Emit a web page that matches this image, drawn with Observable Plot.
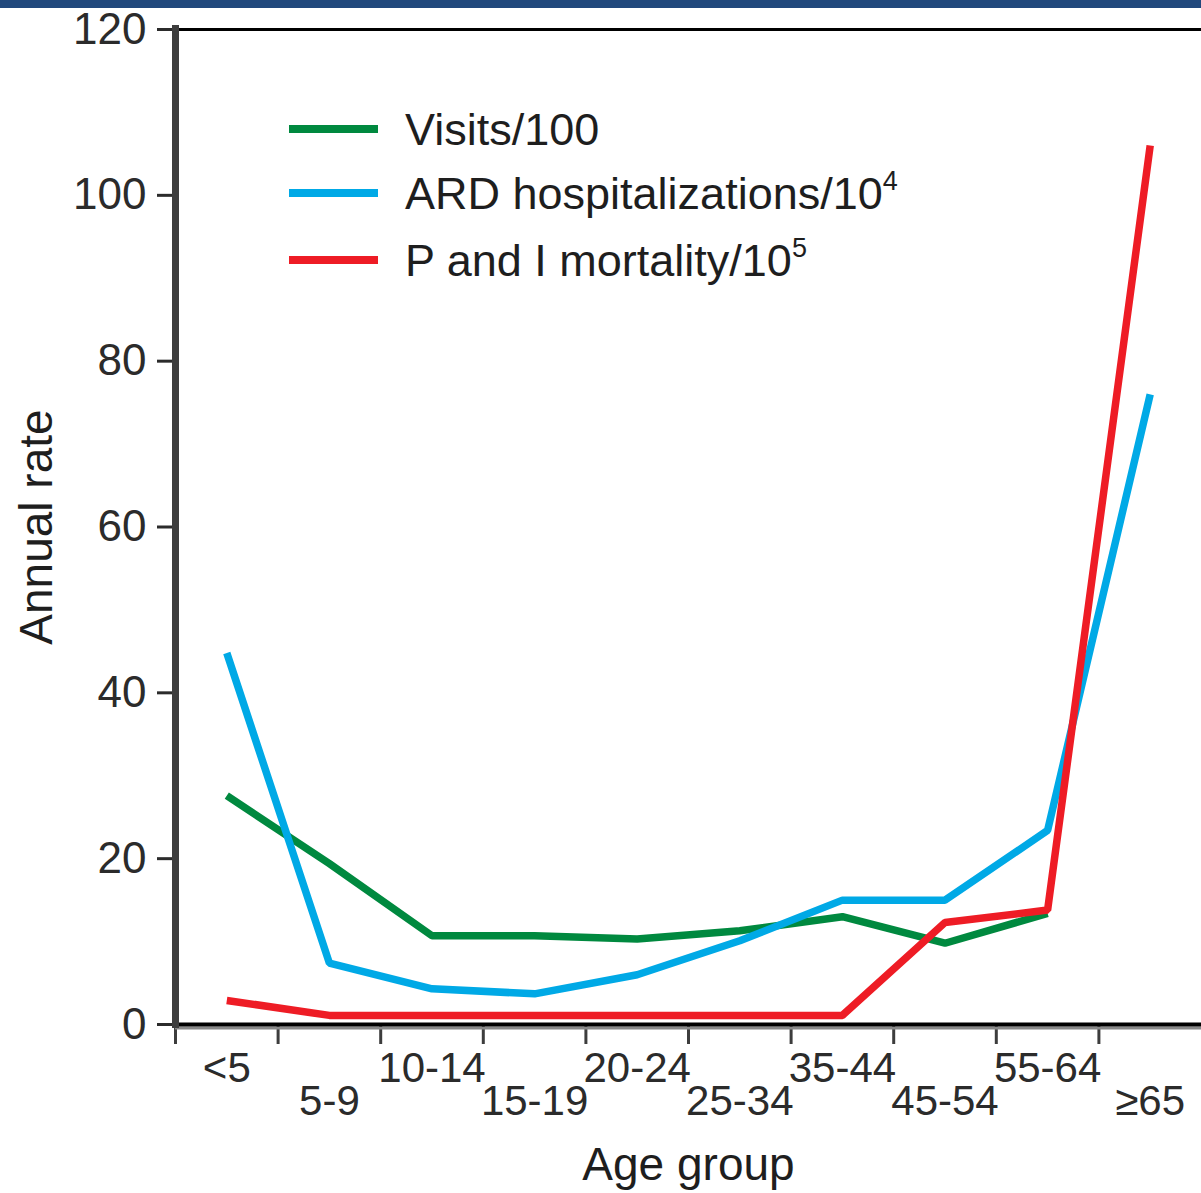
<!DOCTYPE html>
<html><head><meta charset="utf-8">
<script src="https://cdn.jsdelivr.net/npm/d3@7"></script>
<script src="https://cdn.jsdelivr.net/npm/@observablehq/plot@0.6"></script>
<style>
body{margin:0;background:#fff;}
#wrap{position:relative;width:1201px;height:1193px;overflow:hidden;background:#fff;}
#band{position:absolute;left:0;top:0;width:1201px;height:8px;background:#21487c;}
#chart svg{display:block;}
</style></head><body><div id="wrap"><div id="chart"></div><div id="band"></div></div>
<script>
const ageGroups = ["<5","5-9","10-14","15-19","20-24","25-34","35-44","45-54","55-64","≥65"];
const visits  = [27.6, 19.4, 10.7, 10.7, 10.3, 11.3, 13.0, 9.8, 13.4, null];
const ardHosp = [44.8, 7.4, 4.3, 3.7, 6.0, 10.1, 15.0, 15.0, 23.4, 76.0];
const piMort  = [2.9, 1.1, 1.1, 1.1, 1.1, 1.1, 1.1, 12.3, 13.8, 106.0];
const seriesNames = ["Visits/100", "ARD hospitalizations/10", "P and I mortality/10"];
const seriesSup = ["", "4", "5"];
const seriesColors = ["#00893f", "#00a9e6", "#ee1c25"];
const yTicks = [0, 20, 40, 60, 80, 100, 120];
const xTitle = "Age group";
const yTitle = "Annual rate";

const seriesValues = [visits, ardHosp, piMort];
const rows = [];
seriesValues.forEach((vals, s) => vals.forEach((v, i) => {
  if (v != null) rows.push({age: ageGroups[i], value: v, series: seriesNames[s]});
}));

const W = 1201, H = 1193, ML = 175, MT = 29, MR = 0, MB = H - 1024;
const bw = (W - ML - MR) / ageGroups.length;
const font = "'Liberation Sans', Arial, Helvetica, sans-serif";

const plot = Plot.plot({
  width: W, height: H,
  marginLeft: ML, marginRight: MR, marginTop: MT, marginBottom: MB,
  style: {fontFamily: font, background: "#fff", color: "#2b2b2b"},
  x: {type: "band", domain: ageGroups, padding: 0, round: false, axis: null},
  y: {domain: [0, 120], axis: null},
  color: {domain: seriesNames, range: seriesColors},
  marks: [
    Plot.ruleY([120], {stroke: "#000", strokeWidth: 3}),
    Plot.axisY({ticks: yTicks, tickSize: 18, tickPadding: 11, fontSize: 44, label: null, strokeWidth: 3, color: "#2b2b2b"}),
    Plot.axisX({ticks: ageGroups, tickSize: 20, tickFormat: () => "", label: null, dx: -bw / 2, strokeWidth: 3, color: "#3d3d3d"}),
    Plot.axisX({ticks: ageGroups.filter((d, i) => i % 2 === 0), tickSize: 0, tickPadding: 28, fontSize: 42, label: null, color: "#2b2b2b"}),
    Plot.axisX({ticks: ageGroups.filter((d, i) => i % 2 === 1), tickSize: 0, tickPadding: 61, fontSize: 42, label: null, color: "#2b2b2b"}),
    Plot.ruleY([0], {stroke: "#888", strokeWidth: 3, dy: 3.5}),
    Plot.ruleY([0], {stroke: "#000", strokeWidth: 4}),
    Plot.ruleX([ageGroups[0]], {y1: 120, y2: 0, dx: -bw / 2, stroke: "#3d3d3d", strokeWidth: 7, insetTop: -4, insetBottom: -4}),
    Plot.line(rows, {x: "age", y: "value", z: "series", stroke: "series", strokeWidth: 7.5, strokeLinejoin: "miter", strokeLinecap: "butt"}),
    Plot.text([xTitle], {text: d => d, frameAnchor: "bottom", dy: 141, fontSize: 46, lineAnchor: "middle", textAnchor: "middle", fill: "#1e1e1e"}),
    Plot.text([yTitle], {text: d => d, frameAnchor: "left", dx: -138, rotate: -90, fontSize: 46, lineAnchor: "middle", textAnchor: "middle", fill: "#1e1e1e"})
  ]
});

// legend drawn inside the plot area
const svg = d3.select(plot);
const lg = svg.append("g").attr("font-family", font).attr("font-size", 45).attr("fill", "#1e1e1e").attr("text-anchor", "start");
const legendY = [129, 193, 260];
seriesNames.forEach((name, i) => {
  const y = legendY[i];
  lg.append("line").attr("x1", 289).attr("x2", 378).attr("y1", y).attr("y2", y)
    .attr("stroke", seriesColors[i]).attr("stroke-width", 8);
  const t = lg.append("text").attr("x", 405).attr("y", y + 16);
  t.append("tspan").text(name);
  if (seriesSup[i]) t.append("tspan").attr("font-size", 27).attr("dy", -19).text(seriesSup[i]);
});

document.getElementById("chart").appendChild(plot);
</script></body></html>
